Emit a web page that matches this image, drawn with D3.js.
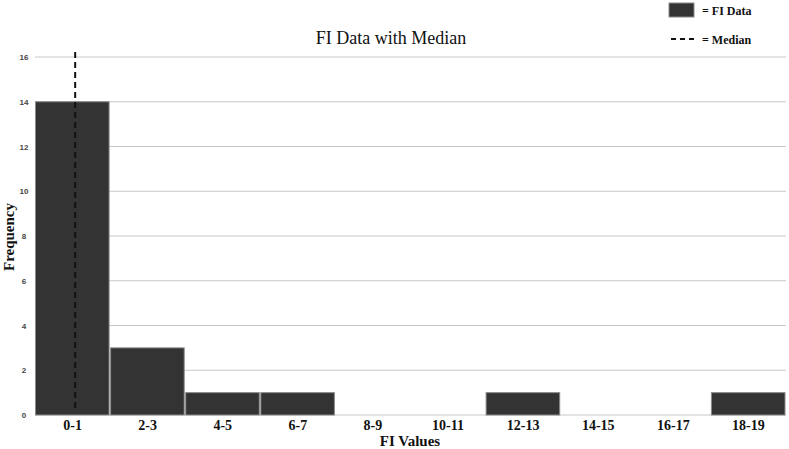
<!DOCTYPE html>
<html>
<head>
<meta charset="utf-8">
<script src="https://cdn.jsdelivr.net/npm/d3@7"></script>
<style>
  body { margin: 0; background: #fff; }
  .serif { font-family: "Liberation Serif", "Times New Roman", serif; }
</style>
</head>
<body>
<div id="chart"></div>
<script>
var svgWidth = 789;
var svgHeight = 449;

var margin = { top: 57, right: 3, bottom: 34, left: 35 };
var width = svgWidth - margin.left - margin.right;
var height = svgHeight - margin.top - margin.bottom;

// data
var bins = ["0-1", "2-3", "4-5", "6-7", "8-9", "10-11", "12-13", "14-15", "16-17", "18-19"];
var counts = [14, 3, 1, 1, 0, 0, 1, 0, 0, 1];
var yTicks = [0, 2, 4, 6, 8, 10, 12, 14, 16];
var median = [1.07];

var svg = d3.select("#chart").append("svg")
  .attr("width", svgWidth)
  .attr("height", svgHeight);

var chartGroup = svg.append("g")
  .attr("transform", `translate(${margin.left}, ${margin.top})`);

var xBand = d3.scaleBand().domain(bins).range([0, width]);
// value scale under the bins (each bin covers 2 units)
var xValue = d3.scaleLinear().domain([0, bins.length * 2]).range([0, width]);
var yScale = d3.scaleLinear().domain([0, 16]).range([height, 0]);

// gridlines
chartGroup.append("g")
  .selectAll("line")
  .data(yTicks)
  .enter()
  .append("line")
  .attr("x1", 0)
  .attr("x2", width)
  .attr("y1", d => yScale(d))
  .attr("y2", d => yScale(d))
  .attr("stroke", "#c8c8c8")
  .attr("stroke-width", 1);

// y axis labels
var leftAxis = d3.axisLeft(yScale).tickValues(yTicks).tickSize(0).tickPadding(9);
var yAxis = chartGroup.append("g").call(leftAxis);
yAxis.select(".domain").remove();
yAxis.selectAll("text")
  .attr("font-family", "Liberation Sans, Arial, sans-serif")
  .attr("font-size", "8px")
  .attr("font-weight", "bold")
  .attr("fill", "#444")
  .attr("text-anchor", "middle")
  .attr("dx", "-2");

// bars
chartGroup.selectAll("rect.bar")
  .data(counts)
  .enter()
  .append("rect")
  .attr("class", "bar")
  .attr("x", (d, i) => xBand(bins[i]) + 0.5)
  .attr("width", xBand.bandwidth() - 1.5)
  .attr("y", d => yScale(d))
  .attr("height", d => height - yScale(d))
  .attr("fill", d => d > 0 ? "#333333" : "none")
  .attr("stroke", d => d > 0 ? "#8a8a8a" : "none")
  .attr("stroke-width", 1);

// x axis labels
var bottomAxis = d3.axisBottom(xBand).tickSize(0).tickPadding(5);
var xAxis = chartGroup.append("g")
  .attr("transform", `translate(0, ${height})`)
  .call(bottomAxis);
xAxis.select(".domain").remove();
xAxis.selectAll("text")
  .attr("class", "serif")
  .style("font-size", "14px")
  .attr("font-weight", "bold")
  .attr("fill", "#111");

// median line
chartGroup.selectAll("line.median")
  .data(median)
  .enter()
  .append("line")
  .attr("class", "median")
  .attr("x1", d => xValue(d))
  .attr("x2", d => xValue(d))
  .attr("y1", -5)
  .attr("y2", height - 4)
  .attr("stroke", "#111")
  .attr("stroke-width", 2)
  .attr("stroke-dasharray", "6,4");

// title
svg.append("text")
  .attr("class", "serif")
  .attr("x", 391)
  .attr("y", 44)
  .attr("text-anchor", "middle")
  .attr("font-size", "18px")
  .attr("fill", "#111")
  .text("FI Data with Median");

// axis titles
svg.append("text")
  .attr("class", "serif")
  .attr("x", 410)
  .attr("y", 446)
  .attr("text-anchor", "middle")
  .attr("font-size", "15px")
  .attr("font-weight", "bold")
  .attr("fill", "#111")
  .text("FI Values");

svg.append("text")
  .attr("class", "serif")
  .attr("transform", "translate(14, 237) rotate(-90)")
  .attr("text-anchor", "middle")
  .attr("font-size", "15px")
  .attr("font-weight", "bold")
  .attr("fill", "#111")
  .text("Frequency");

// legend
var legend = svg.append("g");
legend.append("rect")
  .attr("x", 669)
  .attr("y", 3)
  .attr("width", 25)
  .attr("height", 14)
  .attr("fill", "#333333")
  .attr("stroke", "#8a8a8a");
legend.append("text")
  .attr("class", "serif")
  .attr("x", 702)
  .attr("y", 15)
  .attr("font-size", "12px")
  .attr("font-weight", "bold")
  .attr("fill", "#111")
  .text("= FI Data");
legend.append("line")
  .attr("x1", 671)
  .attr("x2", 695)
  .attr("y1", 39)
  .attr("y2", 39)
  .attr("stroke", "#111")
  .attr("stroke-width", 2)
  .attr("stroke-dasharray", "5,4");
legend.append("text")
  .attr("class", "serif")
  .attr("x", 702)
  .attr("y", 44)
  .attr("font-size", "12px")
  .attr("font-weight", "bold")
  .attr("fill", "#111")
  .text("= Median");
</script>
</body>
</html>
